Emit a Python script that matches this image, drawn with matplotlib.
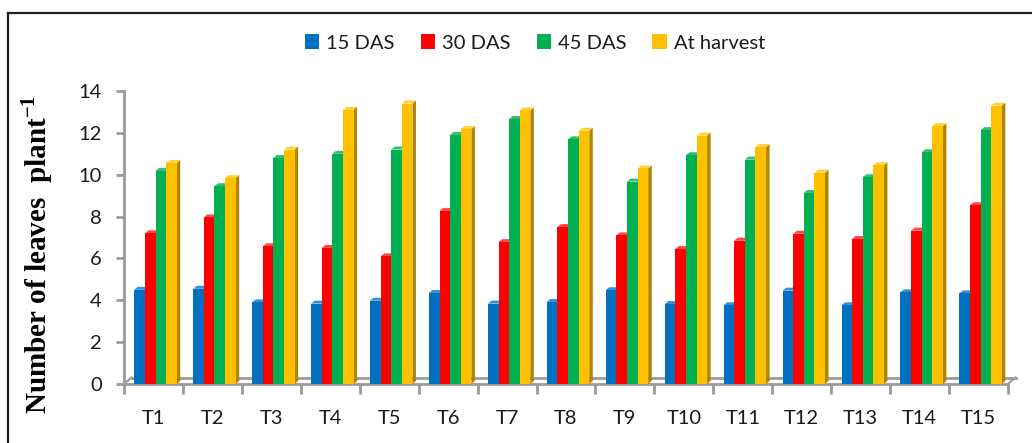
import matplotlib.pyplot as plt
from matplotlib.patches import Polygon, Patch
from matplotlib.lines import Line2D

plt.rcParams['mathtext.fontset'] = 'custom'
plt.rcParams['mathtext.rm'] = 'Liberation Serif'
plt.rcParams['mathtext.bf'] = 'Liberation Serif:bold'

# data
treatments = ['T%d' % i for i in range(1, 16)]
das15 = [4.5, 4.55, 3.9, 3.84, 3.98, 4.35, 3.84, 3.92, 4.48, 3.82, 3.76, 4.46, 3.76, 4.38, 4.33]
das30 = [7.2, 7.96, 6.58, 6.5, 6.1, 8.27, 6.78, 7.5, 7.1, 6.45, 6.85, 7.18, 6.93, 7.33, 8.54]
das45 = [10.18, 9.45, 10.8, 11.0, 11.2, 11.9, 12.66, 11.69, 9.67, 10.93, 10.72, 9.13, 9.88, 11.07, 12.13]
harvest = [10.56, 9.84, 11.2, 13.1, 13.4, 12.18, 13.07, 12.1, 10.3, 11.87, 11.32, 10.1, 10.45, 12.32, 13.3]

series = [das15, das30, das45, harvest]
names = ['15 DAS', '30 DAS', '45 DAS', 'At harvest']
colors = ['#0070C0', '#FF0000', '#00B050', '#FFC000']
sides = ['#004F88', '#B00000', '#007A3A', '#B08600']
tops = ['#3A8FD0', '#FF4A4A', '#30C070', '#FFD040']

W, H = 1032, 443
fig = plt.figure(figsize=(W / 100, H / 100), dpi=100)
ax = fig.add_axes([124 / W, 1 - 384 / H, 884 / W, 293 / H])
ax.set_xlim(0, 15)
ax.set_ylim(0, 14)

# 3d look: pixel sizes converted to data units
px_x = 15 / 884
px_y = 14 / 293
dx, dy = 3.5 * px_x, 3 * px_y

bw = 0.18
start = 0.175
for k, vals in enumerate(series):
    for i, v in enumerate(vals):
        x0 = i + start + k * bw
        x1 = x0 + bw
        ax.add_patch(Polygon([(x1, 0), (x1 + dx, dy), (x1 + dx, v + dy), (x1, v)],
                             closed=True, fc=sides[k], ec='none', zorder=3 + k, clip_on=False))
        ax.add_patch(Polygon([(x0, v), (x0 + dx, v + dy), (x1 + dx, v + dy), (x1, v)],
                             closed=True, fc=tops[k], ec='none', zorder=3 + k, clip_on=False))
        ax.add_patch(Polygon([(x0, 0), (x1, 0), (x1, v), (x0, v)],
                             closed=True, fc=colors[k], ec='none', zorder=3 + k, clip_on=False))

# floor
gray = '#9a9a9a'
fdx, fdy = 7.5 * px_x, 6.5 * px_y
ax.plot([0, 15], [0, 0], color=gray, lw=2, clip_on=False, zorder=2)
ax.plot([fdx, 15 + fdx], [fdy, fdy], color=gray, lw=2, clip_on=False, zorder=2)
ax.plot([0, fdx], [0, fdy], color=gray, lw=1.5, clip_on=False, zorder=2)
ax.plot([15, 15 + fdx], [0, fdy], color=gray, lw=1.5, clip_on=False, zorder=2)

for s in ['top', 'right', 'bottom']:
    ax.spines[s].set_visible(False)
ax.spines['left'].set_color(gray)
ax.spines['left'].set_linewidth(2)

ax.set_yticks(range(0, 15, 2))
ax.tick_params(axis='y', length=6, width=2, color=gray, pad=10,
               labelsize=14.5, labelcolor='#1a1a1a')
for lab in ax.get_yticklabels():
    lab.set_fontfamily('Lato')

ax.set_xticks(range(16))
ax.set_xticklabels([])
ax.tick_params(axis='x', which='major', length=7, width=2, color=gray)
ax.set_xticks([i + 0.5 for i in range(15)], minor=True)
ax.set_xticklabels(treatments, minor=True, fontfamily='Lato', fontsize=14.5, color='#1a1a1a')
ax.tick_params(axis='x', which='minor', length=0, pad=19)

fig.text(37 / W, 1 - 254 / H, r'Number of leaves  plant$^{\mathbf{-1}}$', rotation=90,
         ha='center', va='center', fontfamily='Liberation Serif', fontweight='bold', fontsize=21)

handles = [Patch(fc=c, ec='none') for c in colors]
fig.legend(handles, names, loc='center', bbox_to_anchor=(535 / W, 1 - 43 / H), ncol=4,
           frameon=False, prop={'family': 'Lato', 'size': 14.5}, handlelength=0.7,
           handleheight=0.7, handletextpad=0.35, columnspacing=1.3, labelcolor='#1a1a1a')

# frame lines of the pasted picture
fig.add_artist(Line2D([7.5 / W, 1], [1 - 12.5 / H, 1 - 12.5 / H], color='#202020', lw=1.6))
fig.add_artist(Line2D([7.5 / W, 7.5 / W], [0, 1 - 12.5 / H], color='#202020', lw=1.6))

fig.savefig('out.png', dpi=100)
